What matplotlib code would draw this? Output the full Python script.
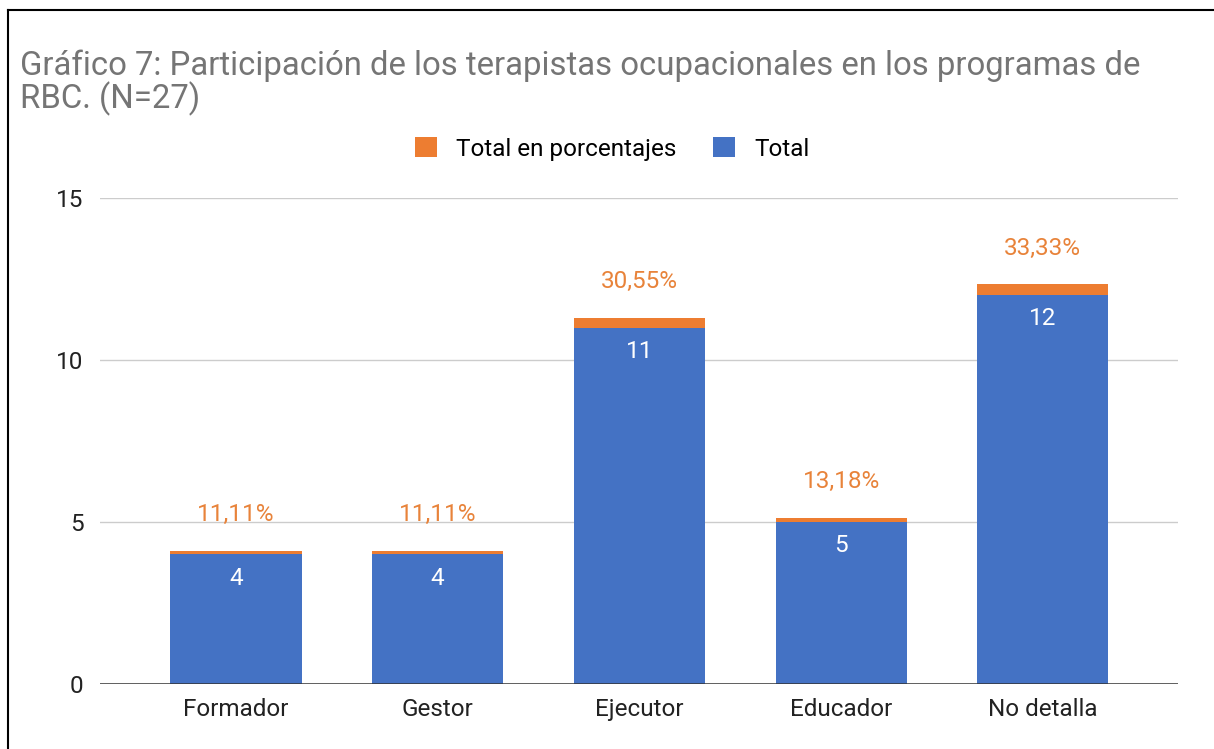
import matplotlib.pyplot as plt
from matplotlib.lines import Line2D

plt.rcParams['font.family'] = ['Roboto', 'DejaVu Sans']

categorias = ["Formador", "Gestor", "Ejecutor", "Educador", "No detalla"]
total = [4, 4, 11, 5, 12]
porcentajes = [0.1111, 0.1111, 0.3055, 0.1318, 0.3333]
etiquetas_pct = ["11,11%", "11,11%", "30,55%", "13,18%", "33,33%"]

azul = "#4472C4"
naranja = "#ED7D31"

fig = plt.figure(figsize=(12.14, 7.49), dpi=100)
ax = fig.add_axes([100/1214, 1-684/749, 1078/1214, (684-198)/749])

x = range(len(categorias))
b1 = ax.bar(x, total, width=0.65, color=azul, label="Total", zorder=3)
b2 = ax.bar(x, porcentajes, bottom=total, width=0.65, color=naranja,
            label="Total en porcentajes", zorder=3)

for i in x:
    ax.annotate(str(total[i]), (i, total[i]), xytext=(0, -17), textcoords="offset points",
                ha="center", va="center", color="white", fontsize=17.5, zorder=4)
    ax.annotate(etiquetas_pct[i], (i, total[i] + porcentajes[i]), xytext=(0, 26),
                textcoords="offset points", ha="center", va="center",
                color="#E8833A", fontsize=17.5, zorder=4)

ax.set_xlim(-0.674, 4.67)
ax.set_ylim(0, 15)
ax.set_yticks([0, 5, 10, 15])
ax.set_xticks(list(x))
ax.set_xticklabels(categorias)
ax.tick_params(length=0, labelsize=17.5, colors="#222222")
ax.tick_params(axis="y", pad=12)
ax.tick_params(axis="x", pad=10)
ax.grid(axis="y", color="#CCCCCC", lw=1, zorder=0)
for s in ax.spines.values():
    s.set_visible(False)
ax.axhline(0, color="#333333", lw=1.8, zorder=5)

fig.text(20/1214, 1-50/749,
         "Gráfico 7: Participación de los terapistas ocupacionales en los programas de\nRBC. (N=27)",
         ha="left", va="top", fontsize=23.7, color="#757575", linespacing=0.98)

leg = fig.legend(handles=[b2, b1], loc="center", bbox_to_anchor=(612/1214, 1-149/749),
                 ncol=2, frameon=False, fontsize=17.5, handlelength=0.9, handleheight=0.9,
                 columnspacing=1.5, handletextpad=0.8)

# borde de la captura
fig.add_artist(Line2D([8/1214, 8/1214], [0, 1-10/749], color="black", lw=1.5))
fig.add_artist(Line2D([8/1214, 1], [1-10/749, 1-10/749], color="black", lw=1.5))

fig.savefig("out.png", dpi=100)
